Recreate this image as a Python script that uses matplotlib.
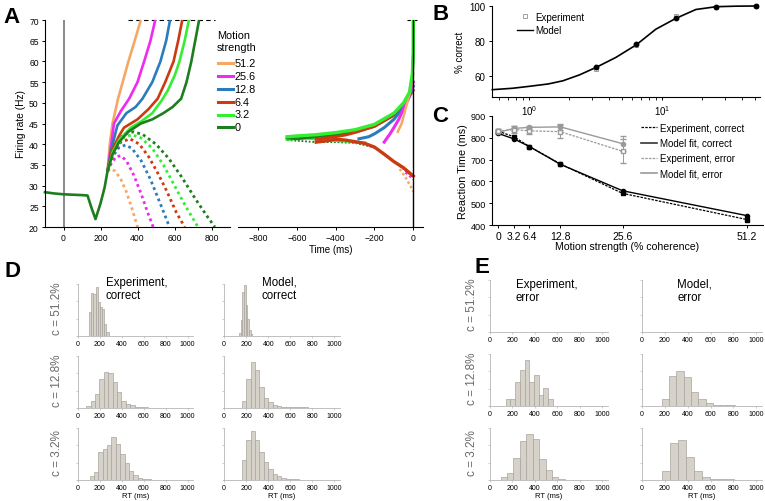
import numpy as np
import matplotlib
matplotlib.use('Agg')
import matplotlib.pyplot as plt
from matplotlib.lines import Line2D
from matplotlib.ticker import NullFormatter

plt.rcParams['font.family'] = ['Liberation Sans', 'DejaVu Sans']
plt.rcParams['mathtext.fontset'] = 'custom'
plt.rcParams['mathtext.rm'] = 'Liberation Sans'
plt.rcParams['mathtext.it'] = 'Liberation Sans'
plt.rcParams['axes.linewidth'] = 0.8

# ---------------- Panel A data ----------------
coherences = ['51.2', '25.6', '12.8', '6.4', '3.2', '0']
coh_colors = ['#F5A866', '#EE2BEE', '#2A7CBD', '#CC3A12', '#33EE33', '#1E7E1E']

early_t = [-100, -50, 0, 50, 100, 130, 150, 173, 200, 222, 238]
early_r = [28.4, 28.1, 27.9, 27.8, 27.7, 27.6, 24.8, 21.9, 25.7, 29.5, 33.5]

# stimulus-aligned, correct (solid)
sc_512_t = [238, 250, 265, 295, 320, 351, 385, 418]
sc_512_r = [33.5, 40, 45, 51, 55, 60, 65, 70]
sc_256_t = [238, 255, 273, 310, 355, 400, 436, 470, 496]
sc_256_r = [33.5, 39, 45, 48, 51, 55, 60, 65, 70]
sc_128_t = [238, 260, 291, 340, 390, 427, 480, 524, 555, 576]
sc_128_r = [33.5, 39, 44.5, 47.5, 49, 51, 55, 60, 65, 70]
sc_64_t = [238, 262, 300, 327, 400, 460, 509, 550, 595, 620, 642]
sc_64_r = [33.5, 38.5, 42, 44, 46, 48.5, 51, 55, 60, 65, 70]
sc_32_t = [238, 265, 300, 364, 420, 480, 530, 564, 600, 627, 655, 678]
sc_32_r = [33.5, 38, 41, 44, 45.5, 47.5, 50.5, 53, 56.5, 60, 65, 70]
sc_0_t = [238, 265, 300, 350, 418, 480, 540, 590, 636, 665, 691, 712, 733]
sc_0_r = [33.5, 37.5, 40.5, 43, 45, 46, 47.5, 49, 51, 55, 60, 65, 70]

# stimulus-aligned, error (dotted)
se_512_t = [238, 255, 280, 310, 340, 370, 400]
se_512_r = [33.5, 34, 33.5, 31.5, 28.5, 24.5, 20]
se_256_t = [238, 260, 285, 310, 340, 380, 420, 455, 485]
se_256_r = [33.5, 35.5, 37, 37.2, 36, 32.5, 28, 23.5, 20]
se_128_t = [238, 265, 300, 335, 370, 420, 470, 520, 573]
se_128_r = [33.5, 37, 39.2, 39.8, 39, 36, 31.5, 26, 20]
se_64_t = [238, 270, 310, 360, 410, 460, 510, 560, 610, 655]
se_64_r = [33.5, 38, 40.5, 41.3, 40, 37, 33, 28.5, 23.5, 20]
se_32_t = [238, 275, 320, 370, 420, 480, 540, 600, 660, 727]
se_32_r = [33.5, 39, 41.5, 42.3, 41.5, 39, 35, 30, 25, 20]
se_0_t = [238, 280, 330, 380, 430, 500, 570, 640, 710, 770, 818]
se_0_r = [33.5, 40, 42.5, 43, 42.3, 40, 36.5, 32, 27, 23, 20]

# response-aligned, correct
rc_512_t = [-80, -60, -40, -20, 0]
rc_512_r = [43, 45, 48.5, 52, 57]
rc_256_t = [-150, -120, -100, -75, -50, -25, 0]
rc_256_r = [40.5, 42.5, 44, 46, 48.5, 51, 55]
rc_128_t = [-280, -230, -200, -150, -100, -50, -20, 0]
rc_128_r = [41.3, 41.8, 42.5, 44, 46, 49, 51.5, 54]
rc_64_t = [-500, -450, -400, -350, -300, -200, -100, -50, 0]
rc_64_r = [41.2, 41.5, 41.8, 42.2, 42.8, 44.3, 47, 49.5, 53]
rc_32_t = [-650, -600, -500, -400, -300, -200, -100, -50, -20, -5, 0, 0]
rc_32_r = [41.8, 42, 42.3, 42.8, 43.5, 44.8, 47.5, 50, 52.5, 57, 62, 70]
rc_0_t = [-650, -600, -500, -400, -300, -200, -100, -50, -20, -5, 0, 0]
rc_0_r = [41.5, 41.3, 41.8, 42.2, 43, 44.3, 47, 49.5, 52, 56, 62, 70]

# response-aligned, error
re_512_t = [-70, -40, -10, 0]
re_512_r = [34, 32, 29.5, 28.5]
re_256_t = [-40, -20, 0]
re_256_r = [33.2, 32.4, 31.5]
re_64_t = [-500, -450, -400, -350, -300, -250, -200, -150, -100, -50, 0]
re_64_r = [40.5, 40.8, 41.2, 41.0, 40.6, 40.2, 39.3, 37.6, 35.8, 34.3, 32.3]
re_32_t = [-650, -550, -450, -350, -300, -250]
re_32_r = [41.2, 41.5, 41.0, 40.8, 40.5, 40.3]
re_0_t = [-650, -500, -400, -300, -200, -100, -50, 0]
re_0_r = [41.0, 40.5, 40.5, 40.3, 39.2, 35.8, 34.0, 32.0]

# ---------------- Panel B data ----------------
b_model_x = [0.53, 0.75, 1.0, 1.4, 1.8, 2.4, 3.2, 4.5, 6.4, 9.0, 12.8, 18, 25.6, 36, 51.2]
b_model_y = [52, 52.8, 53.9, 55.3, 57.1, 60.5, 64.8, 70.5, 77.7, 86.7, 93, 98, 99.6, 99.9, 100]
b_coh = [3.2, 6.4, 12.8, 25.6, 51.2]
b_model_pts = [65, 78, 93, 99.5, 100]
b_exp_pts = [64, 77.5, 94.5, 99.5, 100]

# ---------------- Panel C data ----------------
c_coh = [0, 3.2, 6.4, 12.8, 25.6, 51.2]
c_coh_labels = ['0', '3.2', '6.4', '12.8', '25.6', '51.2']
c_exp_corr = [830, 805, 760, 680, 545, 425]
c_mod_corr = [820, 795, 760, 678, 557, 443]
c_err_coh = [0, 3.2, 6.4, 12.8, 25.6]
c_exp_err = [830, 838, 832, 828, 738]
c_exp_err_sd = [10, 14, 15, 30, 55]
c_mod_err = [825, 843, 848, 850, 773]
c_mod_err_sd = [6, 10, 8, 12, 35]

# ---------------- Panels D/E data (relative bar heights) ----------------
d_exp_512_start, d_exp_512_w = 100, 20
d_exp_512 = [0.46, 0.83, 0.80, 0.94, 0.65, 0.56, 0.51, 0.24, 0.08]
d_exp_128_start, d_exp_128_w = 76, 40
d_exp_128 = [0.03, 0.13, 0.26, 0.55, 0.69, 0.68, 0.50, 0.30, 0.14, 0.08, 0.05, 0.02, 0.015, 0.01, 0.008, 0.005]
d_exp_32_start, d_exp_32_w = 105, 40
d_exp_32 = [0.08, 0.15, 0.54, 0.59, 0.67, 0.82, 0.69, 0.50, 0.32, 0.18, 0.10, 0.04, 0.02, 0.01]
d_mod_512_start, d_mod_512_w = 135, 15
d_mod_512 = [0.05, 0.30, 0.85, 0.98, 0.60, 0.33, 0.12, 0.04]
d_mod_128_start, d_mod_128_w = 160, 40
d_mod_128 = [0.13, 0.55, 0.89, 0.74, 0.40, 0.19, 0.11, 0.06, 0.03, 0.025, 0.02, 0.015, 0.012, 0.01, 0.01, 0.008, 0.006, 0.005, 0.004]
d_mod_32_start, d_mod_32_w = 160, 40
d_mod_32 = [0.38, 0.77, 0.94, 0.76, 0.54, 0.35, 0.21, 0.12, 0.07, 0.04, 0.02, 0.015, 0.01, 0.005]

e_exp_128_start, e_exp_128_w = 140, 42
e_exp_128 = [0.14, 0.14, 0.47, 0.69, 0.88, 0.47, 0.60, 0.21, 0.35, 0.14]
e_exp_32_start, e_exp_32_w = 95, 57
e_exp_32 = [0.06, 0.14, 0.42, 0.75, 0.89, 0.79, 0.40, 0.19, 0.06, 0.02]
e_mod_128_start, e_mod_128_w = 172, 64
e_mod_128 = [0.13, 0.57, 0.68, 0.55, 0.27, 0.13, 0.06, 0.02, 0.02, 0.01]
e_mod_32_start, e_mod_32_w = 172, 70
e_mod_32 = [0.17, 0.71, 0.77, 0.44, 0.17, 0.06, 0.025, 0.02, 0.012, 0.006]

row_labels = ['c = 51.2%', 'c = 12.8%', 'c = 3.2%']

# =====================================================
W, H = 765, 502
fig = plt.figure(figsize=(W / 100, H / 100), dpi=100)


def ax_px(l, t, r, b):
    return fig.add_axes([l / W, 1 - b / H, (r - l) / W, (b - t) / H])


def fx(x):
    return x / W


def fy(y):
    return 1 - y / H


# ---------------- Panel A left ----------------
axA = ax_px(45, 21, 230, 228)
axA.set_xlim(-100, 900)
axA.set_ylim(20, 70)
for s in ['top', 'right']:
    axA.spines[s].set_visible(False)
axA.set_yticks(np.arange(20, 71, 5))
axA.set_xticks([0, 200, 400, 600, 800])
axA.tick_params(labelsize=6.2, length=2.5, width=0.7, pad=2)
axA.set_ylabel('Firing rate (Hz)', fontsize=7.3, labelpad=2)
axA.plot([0, 0], [20, 70], color='#8a8a8a', lw=1.4, zorder=1)
axA.plot([350, 820], [70, 70], color='black', lw=0.8, ls=(0, (4, 3)), clip_on=False)

sc_t = [sc_512_t, sc_256_t, sc_128_t, sc_64_t, sc_32_t, sc_0_t]
sc_r = [sc_512_r, sc_256_r, sc_128_r, sc_64_r, sc_32_r, sc_0_r]
se_t = [se_512_t, se_256_t, se_128_t, se_64_t, se_32_t, se_0_t]
se_r = [se_512_r, se_256_r, se_128_r, se_64_r, se_32_r, se_0_r]
for t, r, c in zip(se_t, se_r, coh_colors):
    axA.plot(t, r, color=c, lw=2.0, ls=(0, (1.0, 1.2)), clip_on=False)
for t, r, c in zip(sc_t, sc_r, coh_colors):
    axA.plot(t, r, color=c, lw=1.9, clip_on=False, solid_capstyle='butt')
axA.plot(early_t, early_r, color=coh_colors[-1], lw=1.9, clip_on=False)

# ---------------- Panel A right ----------------
axR = ax_px(238, 21, 423, 228)
axR.set_xlim(-903, 50)
axR.set_ylim(20, 70)
for s in ['top', 'right', 'left']:
    axR.spines[s].set_visible(False)
axR.set_yticks([])
axR.set_xticks([-800, -600, -400, -200, 0])
axR.tick_params(labelsize=6.2, length=2.5, width=0.7, pad=2)
axR.set_xlabel('Time (ms)', fontsize=7, labelpad=1)
axR.plot([0, 0], [20, 70], color='black', lw=1.0, zorder=5)
axR.plot([-30, 20], [70, 70], color='black', lw=0.8, ls=(0, (3, 3)), clip_on=False)

axR.plot(re_0_t, re_0_r, color=coh_colors[5], lw=1.3, ls=(0, (1, 1)))
axR.plot(re_32_t, re_32_r, color=coh_colors[4], lw=2.2)
axR.plot(re_256_t, re_256_r, color=coh_colors[1], lw=1.8, ls=(0, (1, 1)))
axR.plot(re_512_t, re_512_r, color=coh_colors[0], lw=1.8, ls=(0, (1, 1)))
axR.plot(re_64_t, re_64_r, color=coh_colors[3], lw=2.4)
axR.plot(rc_0_t, rc_0_r, color=coh_colors[5], lw=2.0)
axR.plot(rc_64_t, rc_64_r, color=coh_colors[3], lw=2.0)
axR.plot(rc_128_t, rc_128_r, color=coh_colors[2], lw=2.2)
axR.plot(rc_256_t, rc_256_r, color=coh_colors[1], lw=2.2)
axR.plot(rc_512_t, rc_512_r, color=coh_colors[0], lw=1.8)
axR.plot(rc_32_t, rc_32_r, color=coh_colors[4], lw=2.4)

# Legend for panel A (drawn in figure space)
fig.text(fx(217), fy(31), 'Motion\nstrength', fontsize=7.8, va='top', ha='left', linespacing=1.2)
leg_y = [64, 77, 90, 103, 115.5, 128]
for lab, c, yy in zip(coherences, coh_colors, leg_y):
    fig.add_artist(Line2D([fx(218), fx(233)], [fy(yy), fy(yy)], color=c, lw=2.2))
    fig.text(fx(234.5), fy(yy), lab, fontsize=7.8, va='center', ha='left')

# ---------------- Panel B ----------------
axB = ax_px(492, 7, 760, 98)
axB.set_xscale('log')
axB.set_xlim(0.527, 54.6)
axB.set_ylim(47.8, 100)
for s in ['top', 'right']:
    axB.spines[s].set_visible(False)
axB.set_yticks([60, 80, 100])
axB.xaxis.set_minor_formatter(NullFormatter())
axB.tick_params(labelsize=7, length=2.5, width=0.7, pad=2)
axB.tick_params(which='minor', length=1.8, width=0.6)
axB.set_ylabel('% correct', fontsize=7, labelpad=3)
axB.plot(b_model_x, b_model_y, color='black', lw=1.2, clip_on=False)
axB.plot(b_coh, b_exp_pts, ls='none', marker='s', ms=3.2, mfc='white', mec='#a0a0a0', mew=0.7, clip_on=False)
axB.plot(b_coh, b_model_pts, ls='none', marker='o', ms=3.2, color='black', clip_on=False)
hB = [Line2D([], [], ls='none', marker='s', ms=3.2, mfc='white', mec='#a0a0a0', mew=0.7),
      Line2D([], [], color='black', lw=1.0)]
axB.legend(hB, ['Experiment', 'Model'], loc='upper left', bbox_to_anchor=(0.08, 0.98),
           frameon=False, fontsize=7, handlelength=1.6, handletextpad=0.2,
           labelspacing=0.35, borderaxespad=0)

# ---------------- Panel C ----------------
axC = ax_px(492, 117, 763, 226)
axC.set_xlim(-1.3, 54.5)
axC.set_ylim(400, 900)
for s in ['top', 'right']:
    axC.spines[s].set_visible(False)
axC.set_xticks(c_coh)
axC.set_xticklabels(c_coh_labels)
axC.set_yticks(np.arange(400, 901, 100))
axC.tick_params(axis='y', labelsize=6.6, length=2.5, width=0.7, pad=2)
axC.tick_params(axis='x', labelsize=7.5, length=2.5, width=0.7, pad=1.5)
axC.set_ylabel('Reaction Time (ms)', fontsize=7.8, labelpad=2)
axC.set_xlabel('Motion strength (% coherence)', fontsize=7.6, labelpad=0)
gray = '#9a9a9a'
axC.errorbar(c_err_coh, c_mod_err, yerr=c_mod_err_sd, color=gray, lw=1.0, marker='o', ms=3,
             capsize=2, elinewidth=0.7, clip_on=False)
axC.errorbar(c_err_coh, c_exp_err, yerr=c_exp_err_sd, color=gray, lw=0.9, ls=(0, (2, 1)),
             marker='s', ms=3, mfc='white', capsize=2, elinewidth=0.7, clip_on=False)
axC.plot(c_coh, c_mod_corr, color='black', lw=1.0, marker='o', ms=3, clip_on=False)
axC.plot(c_coh, c_exp_corr, color='black', lw=0.9, ls=(0, (2, 1)), marker='s', ms=3, clip_on=False)
hC = [Line2D([], [], color='black', lw=0.9, ls=(0, (2, 1))),
      Line2D([], [], color='#333333', lw=1.2),
      Line2D([], [], color=gray, lw=0.9, ls=(0, (2, 1))),
      Line2D([], [], color=gray, lw=1.2)]
axC.legend(hC, ['Experiment, correct', 'Model fit, correct', 'Experiment, error', 'Model fit, error'],
           loc='upper left', bbox_to_anchor=(0.535, 0.975), frameon=False, fontsize=7,
           handlelength=1.7, handletextpad=0.3, labelspacing=0.55, borderaxespad=0)

# ---------------- Panels D / E ----------------
bar_fc = '#d6d2ca'
bar_ec = '#a8a49d'
spine_c = '#b5b5b5'


def hist_axes(l, t, r, b, start, width, heights, show_xlabel):
    ax = ax_px(l, t, r, b)
    ax.set_xlim(0, 1050)
    ax.set_ylim(0, 1)
    for s in ['top', 'right']:
        ax.spines[s].set_visible(False)
    for s in ['left', 'bottom']:
        ax.spines[s].set_color(spine_c)
        ax.spines[s].set_linewidth(0.6)
    ax.set_xticks([0, 200, 400, 600, 800, 1000])
    ax.set_yticks([0, 1 / 3, 2 / 3, 1])
    ax.set_yticklabels([])
    ax.tick_params(axis='x', labelsize=5, length=1.5, width=0.5, color=spine_c, pad=1.5)
    ax.tick_params(axis='y', length=1.5, width=0.5, color=spine_c)
    if heights:
        lefts = [start + i * width for i in range(len(heights))]
        ax.bar(lefts, heights, width=width, align='edge', color=bar_fc, edgecolor=bar_ec, linewidth=0.5)
    if show_xlabel:
        ax.set_xlabel('RT (ms)', fontsize=5.5, labelpad=0.5)
    return ax


d_rows = [(285, 337), (357, 409), (429, 481)]
e_rows = [(281, 333), (355, 407), (429, 481)]

d_exp = [(d_exp_512_start, d_exp_512_w, d_exp_512), (d_exp_128_start, d_exp_128_w, d_exp_128),
         (d_exp_32_start, d_exp_32_w, d_exp_32)]
d_mod = [(d_mod_512_start, d_mod_512_w, d_mod_512), (d_mod_128_start, d_mod_128_w, d_mod_128),
         (d_mod_32_start, d_mod_32_w, d_mod_32)]
e_exp = [(0, 0, []), (e_exp_128_start, e_exp_128_w, e_exp_128), (e_exp_32_start, e_exp_32_w, e_exp_32)]
e_mod = [(0, 0, []), (e_mod_128_start, e_mod_128_w, e_mod_128), (e_mod_32_start, e_mod_32_w, e_mod_32)]

for i, (t, b) in enumerate(d_rows):
    hist_axes(78, t, 193, b, *d_exp[i], show_xlabel=(i == 2))
    hist_axes(224, t, 340, b, *d_mod[i], show_xlabel=(i == 2))
    fig.text(fx(57), fy((t + b) / 2 - 2), row_labels[i], rotation=90, fontsize=8.5,
             color='#6a6a6a', ha='center', va='center')
for i, (t, b) in enumerate(e_rows):
    hist_axes(490, t, 608, b, *e_exp[i], show_xlabel=(i == 2))
    hist_axes(642, t, 762, b, *e_mod[i], show_xlabel=(i == 2))
    fig.text(fx(472), fy((t + b) / 2 - 2), row_labels[i], rotation=90, fontsize=8.5,
             color='#6a6a6a', ha='center', va='center')

fig.text(fx(106), fy(277), 'Experiment,\ncorrect', fontsize=8.3, va='top', ha='left', linespacing=1.1)
fig.text(fx(262), fy(277), 'Model,\ncorrect', fontsize=8.3, va='top', ha='left', linespacing=1.1)
fig.text(fx(516), fy(279), 'Experiment,\nerror', fontsize=8.3, va='top', ha='left', linespacing=1.1)
fig.text(fx(677), fy(279), 'Model,\nerror', fontsize=8.3, va='top', ha='left', linespacing=1.1)

# ---------------- Panel letters ----------------
for letter, x, y in [('A', 3, 7), ('B', 432, 4), ('C', 432, 106), ('D', 4, 261), ('E', 475, 257)]:
    fig.text(fx(x), fy(y), letter, fontsize=16, fontweight='bold', va='top', ha='left')

fig.savefig('out.png', dpi=100)
